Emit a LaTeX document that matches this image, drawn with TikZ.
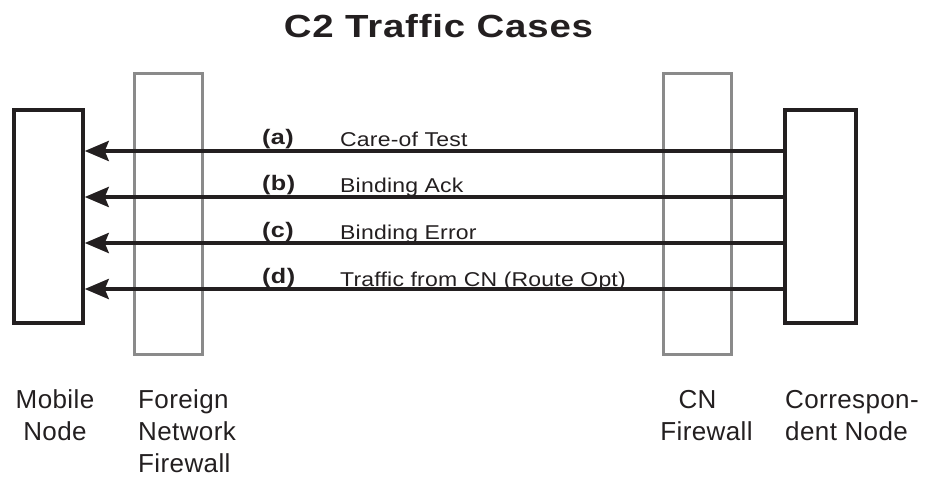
\documentclass[tikz,border=0pt]{standalone}
\usepackage{fontspec}
\setmainfont{Liberation Sans}
\usetikzlibrary{arrows.meta}
\definecolor{ink}{HTML}{231F20}
\definecolor{wallgray}{HTML}{8A8A8A}

\begin{document}
\begin{tikzpicture}[x=1pt, y=-1pt,
  host/.style={draw=ink, line width=3.5pt, minimum width=69pt, minimum height=213pt, inner sep=0pt},
  wall/.style={draw=wallgray, line width=3pt, minimum width=68pt, minimum height=281pt, inner sep=0pt},
  msg/.style={draw=ink, line width=4pt, -{Stealth[length=24pt, width=20pt, inset=4pt]}},
  tag/.style={inner sep=0pt, anchor=base west, text=ink,
    font=\fontsize{21}{24}\selectfont\bfseries\addfontfeatures{FakeStretch=1.2,LetterSpace=2}},
  msgtext/.style={inner sep=0pt, anchor=base west, text=ink,
    font=\fontsize{20}{24}\selectfont\addfontfeatures{FakeStretch=1.15,LetterSpace=1}},
  caption/.style={inner sep=0pt, anchor=base, text=ink,
    font=\fontsize{26}{32}\selectfont\addfontfeatures{LetterSpace=1.5}},
  captionl/.style={caption, anchor=base west}]
\useasboundingbox (0,0) rectangle (925,478);

% title
\node[inner sep=0pt, anchor=base, text=ink,
  font=\fontsize{32}{38}\selectfont\bfseries\addfontfeatures{FakeStretch=1.2,LetterSpace=2.5}]
  (title) at (438.5,38) {C2 Traffic Cases};

% firewalls
\node[wall] (fw1) at (168.3,214) {};
\node[wall] (fw2) at (697.3,214) {};

% end hosts
\node[host] (mn) at (48.5,216.5) {};
\node[host, minimum width=71pt] (cn) at (820.7,216.5) {};

% messages from the correspondent node to the mobile node
\draw[msg] (cn.west |- 0,151) -- (mn.east |- 0,151);
\draw[msg] (cn.west |- 0,197) -- (mn.east |- 0,197);
\draw[msg] (cn.west |- 0,243) -- (mn.east |- 0,243);
\draw[msg] (cn.west |- 0,289) -- (mn.east |- 0,289);

\node[tag] (ta) at (262,145) {(a)};
\node[tag] (tb) at (262,191) {(b)};
\node[tag] (tc) at (262,237) {(c)};
\node[tag] (td) at (262,283) {(d)};

\node[msgtext] (la) at (340,147) {Care-of Test};
\node[msgtext] (lb) at (340,193) {Binding Ack};
\node[msgtext] (lc) at (340,240) {Binding Error};
\node[msgtext] (ld) at (340,286) {Traffic from CN (Route Opt)};

% captions under the columns
\node[caption] (mn1) at (55,408) {Mobile};
\node[caption] (mn2) at (55,440) {Node};
\node[captionl] (fn1) at (138,408) {Foreign};
\node[captionl] (fn2) at (138,440) {Network};
\node[captionl] (fn3) at (138,472) {Firewall};
\node[caption] (cf1) at (697.5,408) {CN};
\node[caption] (cf2) at (706.5,440) {Firewall};
\node[captionl] (cr1) at (785,408) {Correspon-};
\node[captionl] (cr2) at (785,440) {dent Node};
\end{tikzpicture}
\end{document}
